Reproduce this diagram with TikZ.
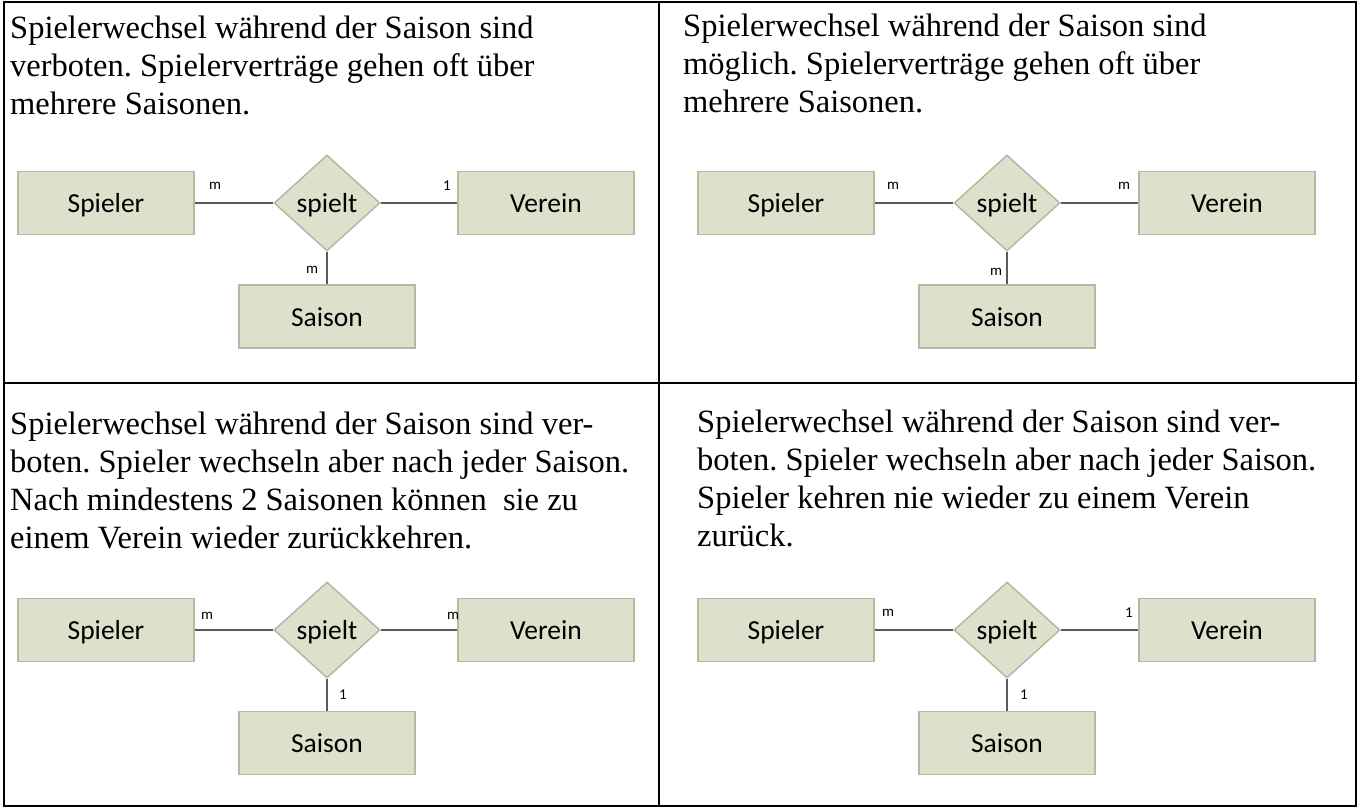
\documentclass[tikz,border=0pt]{standalone}
\usepackage{fontspec}
\setmainfont{Liberation Serif}
\newfontfamily\erfont{Carlito}
\usepackage{tikz}
\usetikzlibrary{positioning,shapes.geometric}

\definecolor{erfill}{HTML}{DDE0CB}
\definecolor{erdraw}{HTML}{B5B8A3}
\definecolor{erline}{HTML}{5A5A5A}

\tikzset{
  entity/.style={draw=erdraw, fill=erfill, line width=1.5pt, minimum width=176pt, minimum height=63pt, inner sep=0pt, text height=22pt, text depth=3pt, font=\erfont\fontsize{27.5}{30}\selectfont},
  relation/.style={diamond, draw=erdraw, fill=erfill, line width=1.5pt, minimum width=106pt, minimum height=96pt, inner sep=0pt, text height=22pt, text depth=3pt, font=\erfont\fontsize{27.5}{30}\selectfont},
  conn/.style={draw=erline, line width=2pt},
  card/.style={inner sep=0pt, font=\erfont\fontsize{15}{17}\selectfont},
  task/.style={anchor=north west, inner sep=0pt, align=left, font=\fontsize{32.5}{38}\selectfont},
}

\begin{document}
\frenchspacing
\begin{tikzpicture}[x=1pt, y=-1pt]
\useasboundingbox (0,0) rectangle (1360,809);

% frame
\draw[line width=2.5pt] (4,2) rectangle (1356,806);
\draw[line width=2pt] (659,2) -- (659,806);
\draw[line width=2pt] (4,383) -- (1356,383);

% top left
\node[task] (t1) at (10,16) {Spielerwechsel während der Saison sind\\verboten. Spielerverträge gehen oft über\\mehrere Saisonen.};

\node[entity] (sp1) at (106,203) {Spieler};
\node[relation] (re1) at (327,203) {spielt};
\node[entity] (ve1) at (546,203) {Verein};
\node[entity] (sa1) at (327,316.5) {Saison};

\draw[conn] (sp1) -- (re1);
\draw[conn] (re1) -- (ve1);
\draw[conn] (re1) -- (sa1);

\node[card] (c1a) at (215,186) {m};
\node[card] (c1b) at (447,186) {1};
\node[card] (c1c) at (312,270) {m};

% top right
\node[task] (t2) at (683,14) {Spielerwechsel während der Saison sind\\möglich. Spielerverträge gehen oft über\\mehrere Saisonen.};

\node[entity] (sp2) at (786,203) {Spieler};
\node[relation] (re2) at (1007,203) {spielt};
\node[entity] (ve2) at (1227,203) {Verein};
\node[entity] (sa2) at (1007,316.5) {Saison};

\draw[conn] (sp2) -- (re2);
\draw[conn] (re2) -- (ve2);
\draw[conn] (re2) -- (sa2);

\node[card] (c2a) at (893,186) {m};
\node[card] (c2b) at (1124,186) {m};
\node[card] (c2c) at (996,272) {m};

% bottom left
\node[task] (t3) at (10,412) {Spielerwechsel während der Saison sind ver-\\boten. Spieler wechseln aber nach jeder Saison.\\Nach mindestens 2 Saisonen können\ \ sie zu\\einem Verein wieder zurückkehren.};

\node[entity] (sp3) at (106,630) {Spieler};
\node[relation] (re3) at (327,630) {spielt};
\node[entity] (ve3) at (546,630) {Verein};
\node[entity] (sa3) at (327,743) {Saison};

\draw[conn] (sp3) -- (re3);
\draw[conn] (re3) -- (ve3);
\draw[conn] (re3) -- (sa3);

\node[card] (c3a) at (207,616) {m};
\node[card] (c3b) at (453,616) {m};
\node[card] (c3c) at (343,695) {1};

% bottom right
\node[task] (t4) at (697,410) {Spielerwechsel während der Saison sind ver-\\boten. Spieler wechseln aber nach jeder Saison.\\Spieler kehren nie wieder zu einem Verein\\zurück.};

\node[entity] (sp4) at (786,630) {Spieler};
\node[relation] (re4) at (1007,630) {spielt};
\node[entity] (ve4) at (1227,630) {Verein};
\node[entity] (sa4) at (1007,743) {Saison};

\draw[conn] (sp4) -- (re4);
\draw[conn] (re4) -- (ve4);
\draw[conn] (re4) -- (sa4);

\node[card] (c4a) at (888,613) {m};
\node[card] (c4b) at (1129,613) {1};
\node[card] (c4c) at (1024,695) {1};

\end{tikzpicture}
\end{document}
